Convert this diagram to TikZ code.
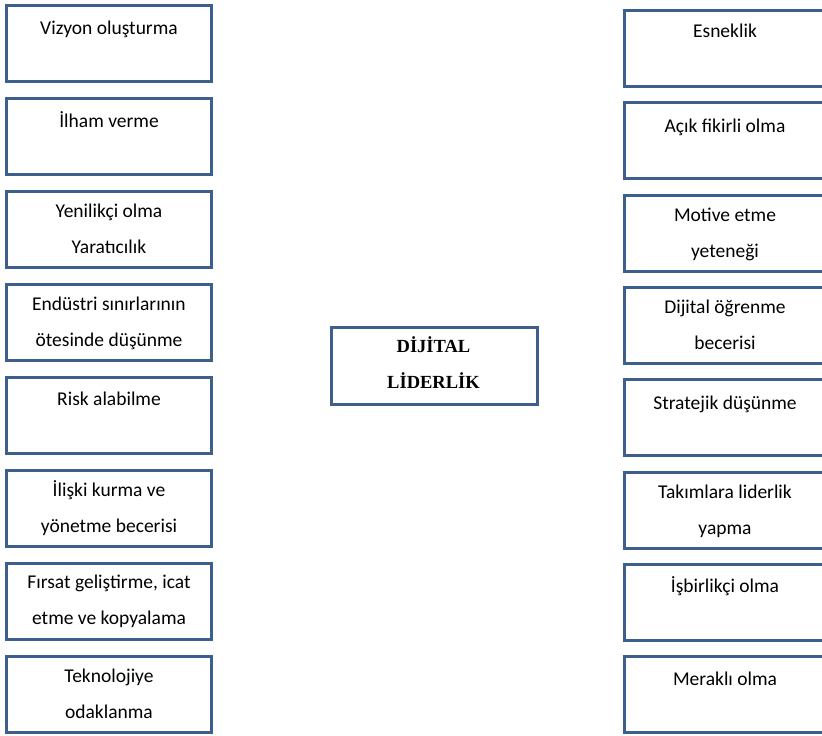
\documentclass[tikz,border=0pt]{standalone}
\usepackage{fontspec}
\setmainfont{Carlito}
\newfontfamily\headfont{Liberation Serif}
\definecolor{frameblue}{HTML}{3D5F8E}
\begin{document}
\begin{tikzpicture}[x=1pt,y=-1pt,
  box/.style={draw=frameblue,line width=3pt,fill=white,inner sep=0pt,outer sep=0pt,
    minimum width=205pt,minimum height=76pt,anchor=north west},
  hub/.style={draw=frameblue,line width=3pt,fill=white,inner sep=0pt,outer sep=0pt,
    minimum width=206pt,minimum height=77pt,anchor=north west},
  % text nodes are placed by the baseline of their last line
  txt/.style={anchor=base,inner sep=0pt,align=center,text=black,
    font=\fontsize{19.5}{36}\selectfont},
  headtxt/.style={anchor=base,inner sep=0pt,align=center,text=black,
    font=\headfont\bfseries\fontsize{18.5}{35.5}\selectfont}]
\useasboundingbox (0,0) rectangle (822,736);

% left column
\node[box] (l1) at (6.5,5.5) {};
\node[box] (l2) at (6.5,98.5) {};
\node[box] (l3) at (6.5,191.5) {};
\node[box] (l4) at (6.5,284.5) {};
\node[box] (l5) at (6.5,377.5) {};
\node[box] (l6) at (6.5,470.5) {};
\node[box] (l7) at (6.5,563.5) {};
\node[box] (l8) at (6.5,656.5) {};

\node[txt] (t1) at (109,34.5) {Vizyon oluşturma};
\node[txt] (t2) at (109,127.5) {İlham verme};
\node[txt] (t3) at (109,253.5) {Yenilikçi olma\\Yaratıcılık};
\node[txt] (t4) at (109,346) {Endüstri sınırlarının\\ötesinde düşünme};
\node[txt] (t5) at (109,405.5) {Risk alabilme};
\node[txt] (t6) at (109,532.5) {İlişki kurma ve\\yönetme becerisi};
\node[txt] (t7) at (109,624) {Fırsat geliştirme, icat\\etme ve kopyalama};
\node[txt] (t8) at (109,718) {Teknolojiye\\odaklanma};

% right column
\node[box] (r1) at (624,10.5) {};
\node[box] (r2) at (624,102.8) {};
\node[box] (r3) at (624,195.1) {};
\node[box] (r4) at (624,287.4) {};
\node[box] (r5) at (624,379.7) {};
\node[box] (r6) at (624,472) {};
\node[box] (r7) at (624,564.3) {};
\node[box] (r8) at (624,656.6) {};

\node[txt] (s1) at (725,37) {Esneklik};
\node[txt] (s2) at (725,132) {Açık fikirli olma};
\node[txt] (s3) at (725,257.5) {Motive etme\\yeteneği};
\node[txt] (s4) at (725,349.5) {Dijital öğrenme\\becerisi};
\node[txt] (s5) at (725,409) {Stratejik düşünme};
\node[txt] (s6) at (725,534.5) {Takımlara liderlik\\yapma};
\node[txt] (s7) at (725,592) {İşbirlikçi olma};
\node[txt] (s8) at (725,685) {Meraklı olma};

% central box
\node[hub] (hub) at (331.5,327.5) {};
\node[headtxt] (hubtxt) at (433.5,388) {DİJİTAL\\LİDERLİK};
\end{tikzpicture}
\end{document}
